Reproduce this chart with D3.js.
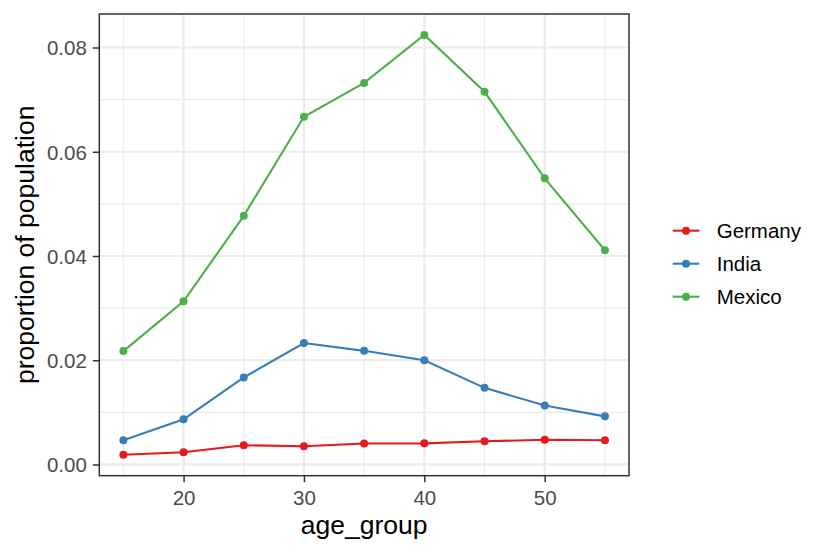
<!DOCTYPE html>
<html>
<head>
<meta charset="utf-8">
<script src="https://cdn.jsdelivr.net/npm/d3@7"></script>
<style>
  body { margin: 0; background: #fff; }
  svg { display: block; font-family: "Liberation Sans", Arial, sans-serif; }
</style>
</head>
<body>
<div id="chart"></div>
<script>
const ageGroups = [15, 20, 25, 30, 35, 40, 45, 50, 55]
const countries = ['Germany', 'India', 'Mexico']
const germany = [0.00187, 0.00235, 0.00369, 0.0035, 0.00402, 0.00405, 0.00445, 0.00474, 0.00464]
const india = [0.00464, 0.00866, 0.0167, 0.0233, 0.0218, 0.0200, 0.0147, 0.0113, 0.00923]
const mexico = [0.02175, 0.0313, 0.0477, 0.0667, 0.0732, 0.0824, 0.0715, 0.0549, 0.0411]
const colors = ['#E41A1C', '#377EB8', '#4DAF4A']
const yTicks = [0, 0.02, 0.04, 0.06, 0.08]
const yMinor = [0.01, 0.03, 0.05, 0.07]
const xTicks = [20, 30, 40, 50]
const xMinor = [15, 25, 35, 45, 55]

const W = 830, H = 554
const P = { left: 99.3, right: 629, top: 14, bottom: 475.7 }

const series = [germany, india, mexico].map((vals, i) => ({
  name: countries[i], color: colors[i],
  points: vals.map((v, j) => ({ x: ageGroups[j], y: v }))
}))

// ggplot-style 5% expansion
function expand([a, b]) { const d = (b - a) * 0.05; return [a - d, b + d] }
const allY = series.flatMap(s => s.points.map(p => p.y))

const x = d3.scaleLinear().domain(expand(d3.extent(ageGroups))).range([P.left, P.right])
const y = d3.scaleLinear().domain(expand(d3.extent(allY))).range([P.bottom, P.top])

const svg = d3.select('#chart').append('svg').attr('width', W).attr('height', H)

// grid
const grid = svg.append('g')
grid.selectAll('.ymin').data(yMinor).join('line')
  .attr('x1', P.left).attr('x2', P.right).attr('y1', d => y(d)).attr('y2', d => y(d))
  .attr('stroke', '#EBEBEB').attr('stroke-width', 1.1)
grid.selectAll('.xmin').data(xMinor).join('line')
  .attr('y1', P.top).attr('y2', P.bottom).attr('x1', d => x(d)).attr('x2', d => x(d))
  .attr('stroke', '#EBEBEB').attr('stroke-width', 1.1)
grid.selectAll('.ymaj').data(yTicks).join('line')
  .attr('x1', P.left).attr('x2', P.right).attr('y1', d => y(d)).attr('y2', d => y(d))
  .attr('stroke', '#EBEBEB').attr('stroke-width', 2.2)
grid.selectAll('.xmaj').data(xTicks).join('line')
  .attr('y1', P.top).attr('y2', P.bottom).attr('x1', d => x(d)).attr('x2', d => x(d))
  .attr('stroke', '#EBEBEB').attr('stroke-width', 2.2)

// lines + points
const line = d3.line().x(d => x(d.x)).y(d => y(d.y))
series.forEach(s => {
  svg.append('path').datum(s.points).attr('d', line)
    .attr('fill', 'none').attr('stroke', s.color).attr('stroke-width', 2.1)
  svg.append('g').selectAll('circle').data(s.points).join('circle')
    .attr('cx', d => x(d.x)).attr('cy', d => y(d.y)).attr('r', 4)
    .attr('fill', s.color)
})

// panel border
svg.append('rect').attr('x', P.left).attr('y', P.top)
  .attr('width', P.right - P.left).attr('height', P.bottom - P.top)
  .attr('fill', 'none').attr('stroke', '#333333').attr('stroke-width', 1.5)

// axes
const xAxis = svg.append('g').attr('transform', `translate(0,${P.bottom})`)
  .call(d3.axisBottom(x).tickValues(xTicks).tickSize(6.5).tickPadding(8).tickFormat(d3.format('d')))
const yAxis = svg.append('g').attr('transform', `translate(${P.left},0)`)
  .call(d3.axisLeft(y).tickValues(yTicks).tickSize(6.5).tickPadding(6).tickFormat(d3.format('.2f')))
;[xAxis, yAxis].forEach(a => {
  a.select('.domain').remove()
  a.selectAll('.tick line').attr('stroke', '#333333').attr('stroke-width', 1.5)
  a.selectAll('.tick text').attr('fill', '#4D4D4D').attr('font-size', 20.5)
    .attr('font-family', '"Liberation Sans", Arial, sans-serif')
})
yAxis.selectAll('.tick text').attr('dy', '0.36em')

// axis titles
svg.append('text').attr('x', (P.left + P.right) / 2).attr('y', 534)
  .attr('text-anchor', 'middle').attr('font-size', 26.5).attr('fill', '#000')
  .text('age_group')
svg.append('text')
  .attr('transform', `translate(34,${(P.top + P.bottom) / 2}) rotate(-90)`)
  .attr('text-anchor', 'middle').attr('font-size', 26.5).attr('fill', '#000')
  .text('proportion of population')

// legend
const legend = svg.append('g').attr('transform', 'translate(672.7,230.7)')
const item = legend.selectAll('g').data(series).join('g')
  .attr('transform', (d, i) => `translate(0,${i * 33})`)
item.append('line').attr('x1', 0).attr('x2', 26.6)
  .attr('stroke', d => d.color).attr('stroke-width', 2.1)
item.append('circle').attr('cx', 13.3).attr('r', 4).attr('fill', d => d.color)
item.append('text').attr('x', 44).attr('dy', '0.36em')
  .attr('font-size', 20.5).attr('fill', '#000').text(d => d.name)
</script>
</body>
</html>
